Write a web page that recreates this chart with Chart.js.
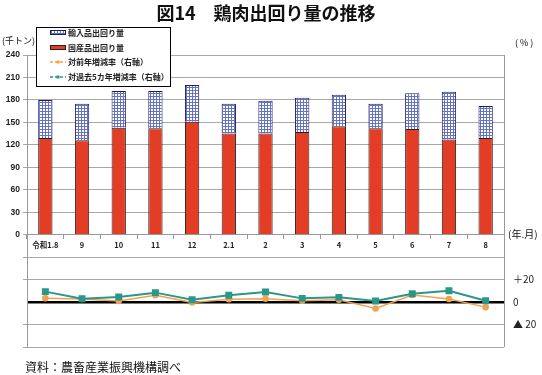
<!DOCTYPE html>
<html>
<head>
<meta charset="utf-8">
<script src="https://cdn.jsdelivr.net/npm/chart.js@4.4.0/dist/chart.umd.min.js"></script>
<style>
  body { margin: 0; background: #fff; }
</style>
</head>
<body>
<canvas id="myChart" width="542" height="375"></canvas>
<script>
// months (year.month)
var categories = ['令和1.8', '9', '10', '11', '12', '2.1', '2', '3', '4', '5', '6', '7', '8'];

// thousand tonnes
var domestic = [129, 126, 143, 142, 151, 135, 135, 137, 145, 142, 141, 127, 129];
var imported = [51, 49, 49, 50, 49, 40, 44, 46, 42, 33, 48, 64, 43];

// % change (right axis)
var vsPrevYear = [3.3, 2.7, 1, 6, -0.3, 2.5, 3, 1.2, 2, -5.7, 6.3, 2.7, -4.5];
var vsPast5Years = [9.3, 3, 4.5, 8.4, 2, 6, 9, 3.3, 4.2, 1, 7.5, 10, 1.2];

// right axis tick labels shown
var rightTickLabels = { '20': '＋20', '0': '0', '-20': '▲ 20' };

var FONT = '"Noto Sans CJK JP", "Noto Sans", sans-serif';
var RED = '#e43d26';
var ORANGE = '#f2a24c';
var TEAL = '#2b968a';

function gridPattern() {
  var c = document.createElement('canvas');
  c.width = 3; c.height = 3;
  var g = c.getContext('2d');
  g.fillStyle = '#ffffff';
  g.fillRect(0, 0, 3, 3);
  g.fillStyle = '#6573c4';
  g.fillRect(0, 0, 3, 1);
  g.fillRect(0, 0, 1, 3);
  return g.createPattern(c, 'repeat');
}
var hatch = gridPattern();

// title, unit labels, legend box and source note
var decor = {
  id: 'decor',
  beforeDraw: function(chart) {
    var ctx = chart.ctx;
    ctx.save();
    ctx.fillStyle = '#fff';
    ctx.fillRect(0, 0, chart.width, chart.height);
    ctx.restore();
  },
  afterDraw: function(chart) {
    var ctx = chart.ctx;
    ctx.save();
    ctx.fillStyle = '#111';
    ctx.textBaseline = 'middle';

    ctx.font = 'bold 18px ' + FONT;
    ctx.textAlign = 'center';
    ctx.fillText('図14　鶏肉出回り量の推移', 266, 13);

    ctx.textAlign = 'left';
    ctx.font = '9px ' + FONT;
    ctx.fillText('(千トン)', 2, 41);
    ctx.fillText('( % )', 515, 43);
    ctx.font = '10px ' + FONT;
    ctx.fillText('(年.月)', 508, chart.scales.y.getPixelForValue(0));

    ctx.font = '12px ' + FONT;
    ctx.fillText('資料：農畜産業振興機構調べ', 25, 367);

    // legend
    ctx.fillStyle = '#fff';
    ctx.fillRect(36, 27, 135, 60);
    ctx.strokeStyle = '#000';
    ctx.lineWidth = 1;
    ctx.strokeRect(36.5, 27.5, 134, 59);

    var rows = [32.5, 47.5, 62, 77];
    ctx.fillStyle = hatch;
    ctx.fillRect(50, 30, 16, 5);
    ctx.strokeStyle = '#1c1f5a';
    ctx.strokeRect(50.5, 30.5, 15, 4);

    ctx.fillStyle = RED;
    ctx.fillRect(50, 45, 16, 5);
    ctx.strokeStyle = '#222';
    ctx.strokeRect(50.5, 45.5, 15, 4);

    ctx.lineWidth = 1.5;
    ctx.setLineDash([3, 2]);
    ctx.strokeStyle = ORANGE;
    ctx.beginPath(); ctx.moveTo(50, rows[2]); ctx.lineTo(66, rows[2]); ctx.stroke();
    ctx.strokeStyle = TEAL;
    ctx.beginPath(); ctx.moveTo(50, rows[3]); ctx.lineTo(66, rows[3]); ctx.stroke();
    ctx.setLineDash([]);
    ctx.fillStyle = ORANGE;
    ctx.beginPath(); ctx.arc(58, rows[2], 1.8, 0, Math.PI * 2); ctx.fill();
    ctx.fillStyle = TEAL;
    ctx.fillRect(56.5, rows[3] - 1.5, 3, 3);

    ctx.fillStyle = '#222';
    ctx.font = 'bold 8px ' + FONT;
    var names = ['輸入品出回り量', '国産品出回り量', '対前年増減率（右軸）', '対過去5カ年増減率（右軸）'];
    names.forEach(function(t, i) { ctx.fillText(t, 68, rows[i]); });
    ctx.restore();
  }
};

var ctxChart = document.getElementById('myChart').getContext('2d');
var myChart = new Chart(ctxChart, {
  data: {
    labels: categories,
    datasets: [
      {
        type: 'line',
        label: '対過去5カ年増減率（右軸）',
        data: vsPast5Years,
        yAxisID: 'y2',
        borderColor: TEAL,
        backgroundColor: TEAL,
        borderWidth: 2,
        pointStyle: 'rect',
        pointRadius: 3.5,
        pointBorderColor: TEAL,
        pointBackgroundColor: TEAL
      },
      {
        type: 'line',
        label: '対前年増減率（右軸）',
        data: vsPrevYear,
        yAxisID: 'y2',
        borderColor: ORANGE,
        backgroundColor: ORANGE,
        borderWidth: 1.5,
        pointRadius: 2.5,
        pointBorderColor: ORANGE,
        pointBackgroundColor: ORANGE
      },
      {
        type: 'bar',
        label: '国産品出回り量',
        data: domestic,
        yAxisID: 'y',
        stack: 'total',
        backgroundColor: RED,
        borderColor: '#222',
        borderWidth: 1,
        barPercentage: 0.39,
        categoryPercentage: 1
      },
      {
        type: 'bar',
        label: '輸入品出回り量',
        data: imported,
        yAxisID: 'y',
        stack: 'total',
        backgroundColor: hatch,
        borderColor: '#1c1f5a',
        borderWidth: 1,
        barPercentage: 0.39,
        categoryPercentage: 1
      }
    ]
  },
  options: {
    responsive: false,
    animation: false,
    layout: { padding: { top: 55, bottom: 28, left: 0, right: 0 } },
    plugins: {
      legend: { display: false },
      tooltip: { enabled: false }
    },
    scales: {
      x: {
        position: { y: 0 },
        stacked: true,
        offset: true,
        grid: { display: true, drawOnChartArea: false, offset: true, tickLength: 4, color: '#999' },
        border: { display: true, color: '#999' },
        ticks: { autoSkip: false, maxRotation: 0, padding: 2, color: '#222', font: { family: FONT, size: 7.5, weight: 'bold' } },
        afterFit: function(s) { s.height = 0; }
      },
      y: {
        position: 'left',
        stacked: true,
        min: -150,
        max: 240,
        ticks: {
          stepSize: 30,
          autoSkip: false,
          padding: 3,
          color: '#222',
          font: { family: '"Liberation Sans", Arial, sans-serif', size: 8.5, weight: 'bold' },
          callback: function(v) { return v >= 0 ? v : ''; }
        },
        grid: {
          tickLength: 4,
          color: function(c) { return c.tick && c.tick.value === -90 ? 'rgba(0,0,0,0)' : '#a8a8a8'; }
        },
        border: { display: true, color: '#999' },
        afterFit: function(s) { s.width = 27; }
      },
      y2: {
        position: 'right',
        min: -40,
        max: 220,
        ticks: {
          stepSize: 20,
          autoSkip: false,
          padding: 9,
          color: '#222',
          font: { family: FONT, size: 10 },
          callback: function(v) { return rightTickLabels[String(v)] || ''; }
        },
        grid: {
          drawOnChartArea: true,
          drawTicks: false,
          color: '#000',
          lineWidth: function(c) { return c.tick && c.tick.value === 0 ? 2.5 : 0; }
        },
        border: { display: true, color: '#999' },
        afterFit: function(s) { s.width = 38; }
      }
    }
  },
  plugins: [decor]
});
</script>
</body>
</html>
